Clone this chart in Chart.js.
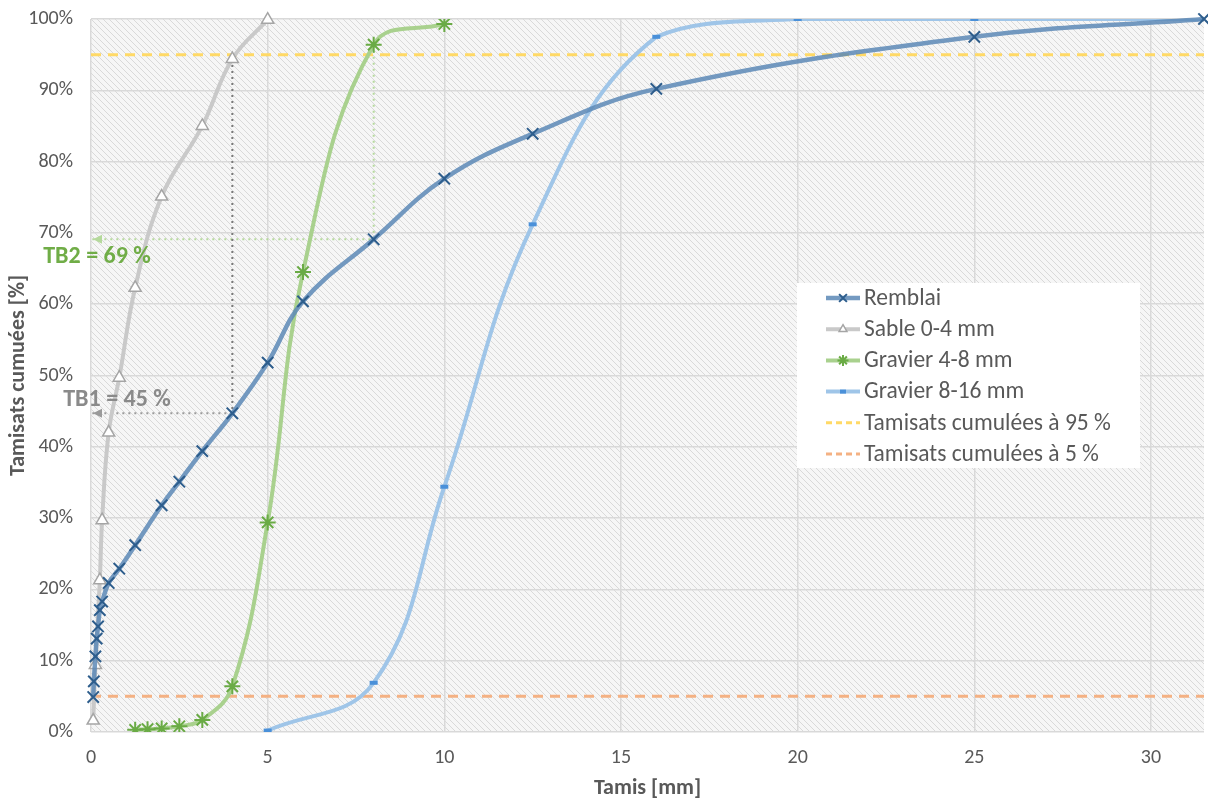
<!DOCTYPE html>
<html>
<head>
<meta charset="utf-8">
<script src="https://cdn.jsdelivr.net/npm/chart.js@4.4.1/dist/chart.umd.min.js"></script>
<style>
  html, body { margin: 0; background: #fff; }
  #wrap { width: 1208px; height: 802px; }
</style>
</head>
<body>
<div id="wrap"><canvas id="chart" width="1208" height="802"></canvas></div>
<script>
// ── Data ─────────────────────────────────────────────────────────────────────
const remblaiX = [0.063, 0.08, 0.125, 0.16, 0.2, 0.25, 0.315, 0.5, 0.8, 1.25, 2, 2.5, 3.15, 4, 5, 6, 8, 10, 12.5, 16, 25, 31.5];
const remblaiY = [4.9, 7.1, 10.6, 13.1, 14.8, 17.1, 18.3, 20.9, 22.9, 26.2, 31.8, 35.1, 39.4, 44.7, 51.8, 60.4, 69.1, 77.6, 83.9, 90.2, 97.5, 100];

const sableX = [0.063, 0.125, 0.25, 0.315, 0.5, 0.8, 1.25, 2, 3.15, 4, 5];
const sableY = [1.6, 9.4, 21.3, 29.7, 42.0, 49.7, 62.3, 75.1, 85.0, 94.4, 99.9];

const grav48X = [1.25, 1.6, 2, 2.5, 3.15, 4, 5, 6, 8, 10];
const grav48Y = [0.3, 0.4, 0.5, 0.8, 1.7, 6.4, 29.4, 64.5, 96.4, 99.3];

const grav816X = [5, 8, 10, 12.5, 16, 20, 25, 31.5];
const grav816Y = [0.2, 6.9, 34.4, 71.2, 97.5, 100, 100, 100];

const limitX  = [0, 31.5];
const limit95 = [95, 95];
const limit5  = [5, 5];

// TB1 / TB2 read-offs (sieve, passing %)
const tb1 = { sieve: 4, d95: 94.4, value: 44.7, label: "TB1 = 45 %" };
const tb2 = { sieve: 8, d95: 96.4, value: 69.1, label: "TB2 = 69 %" };

const xTicks = [0, 5, 10, 15, 20, 25, 30];

const FONT = "Carlito, Lato, 'Open Sans', sans-serif";
const TEXT = "#595959";

// ── Helpers ──────────────────────────────────────────────────────────────────
const pts = (xs, ys) => xs.map((x, i) => ({ x, y: ys[i] }));

function hatchPattern(ctx) {
  const p = document.createElement("canvas");
  p.width = 6; p.height = 6;
  const g = p.getContext("2d");
  g.fillStyle = "#f6f6f6";
  g.fillRect(0, 0, 6, 6);
  g.strokeStyle = "#d9d9d9";
  g.lineWidth = 1;
  g.beginPath();
  g.moveTo(-1, -1); g.lineTo(7, 7);
  g.moveTo(-1, 5);  g.lineTo(1, 7);
  g.moveTo(5, -1);  g.lineTo(7, 1);
  g.stroke();
  return ctx.createPattern(p, "repeat");
}

// Series styles, shared by datasets and the hand-drawn legend
const series = [
  { label: "Remblai", line: "rgba(92,136,182,0.85)", marker: "#2d5d8c", style: "crossRot", radius: 8, bw: 2, fill: "#2d5d8c", width: 4.5, dash: [] },
  { label: "Sable 0-4 mm", line: "#c9c9c9", marker: "#a5a5a5", style: "triangle", radius: 7, bw: 1.5, fill: "#ffffff", width: 4, dash: [] },
  { label: "Gravier 4-8 mm", line: "#a9d18e", marker: "#6aab45", style: "star", radius: 8, bw: 2, fill: "#6aab45", width: 4, dash: [] },
  { label: "Gravier 8-16 mm", line: "#9fc5e8", marker: "#4a90d9", style: "line", radius: 4, bw: 4, fill: "#4a90d9", width: 4, dash: [] },
  { label: "Tamisats cumulées à 95 %", line: "#ffd966", marker: null, width: 3, dash: [10, 7] },
  { label: "Tamisats cumulées à 5 %", line: "#f4b183", marker: null, width: 3, dash: [10, 7] }
];

function curve(s, data, clip) {
  return {
    label: s.label, data, showLine: true, tension: 0.4, clip,
    borderColor: s.line, borderWidth: s.width, borderDash: s.dash,
    pointStyle: s.style, pointRadius: s.radius, pointHoverRadius: s.radius,
    pointBorderColor: s.marker, pointBackgroundColor: s.fill, pointBorderWidth: s.bw
  };
}
function flat(s, data) {
  return {
    label: s.label, data, showLine: true, tension: 0,
    borderColor: s.line, borderWidth: s.width, borderDash: s.dash, pointRadius: 0
  };
}
function guide(data, color) {
  return {
    label: "", data, showLine: true, tension: 0,
    borderColor: color, borderWidth: 2, borderDash: [2, 4], pointRadius: 0
  };
}

// ── Plugins ──────────────────────────────────────────────────────────────────
const backdrop = {
  id: "backdrop",
  beforeDraw(chart) {
    const { ctx, chartArea: a } = chart;
    ctx.save();
    ctx.fillStyle = hatchPattern(ctx);
    ctx.fillRect(a.left, a.top, a.right - a.left, a.bottom - a.top);
    ctx.restore();
  }
};

const readOffs = {
  id: "readOffs",
  afterDatasetsDraw(chart) {
    const { ctx, scales: { x, y } } = chart;
    const arrow = (v, color) => {
      const px = x.getPixelForValue(0) + 2, py = y.getPixelForValue(v);
      ctx.fillStyle = color;
      ctx.beginPath();
      ctx.moveTo(px, py); ctx.lineTo(px + 9, py - 4.5); ctx.lineTo(px + 9, py + 4.5);
      ctx.closePath(); ctx.fill();
    };
    ctx.save();
    arrow(tb1.value, "#9a9a9a");
    arrow(tb2.value, "#b5d99c");
    ctx.font = "bold 24px " + FONT;
    ctx.textBaseline = "middle";
    ctx.textAlign = "center";
    ctx.fillStyle = "#8a8a8a";
    ctx.fillText(tb1.label, x.getPixelForValue(0) + 26, y.getPixelForValue(tb1.value) - 13);
    ctx.fillStyle = "#70ad47";
    ctx.fillText(tb2.label, x.getPixelForValue(0) + 6, y.getPixelForValue(tb2.value) + 18);
    ctx.restore();
  }
};

const boxLegend = {
  id: "boxLegend",
  afterDraw(chart) {
    const { ctx } = chart;
    const bx = 797, by = 283, bw = 343, bh = 185;
    ctx.save();
    ctx.fillStyle = "#ffffff";
    ctx.fillRect(bx, by, bw, bh);
    ctx.font = "23.5px " + FONT;
    ctx.textBaseline = "middle";
    ctx.textAlign = "left";
    series.forEach((s, i) => {
      const cy = by + 15 + i * 31.2;
      ctx.strokeStyle = s.line;
      ctx.lineWidth = s.width;
      ctx.setLineDash(s.dash.length ? [6, 4] : []);
      ctx.beginPath();
      ctx.moveTo(826, cy); ctx.lineTo(860, cy);
      ctx.stroke();
      ctx.setLineDash([]);
      if (s.marker) {
        ctx.strokeStyle = s.marker;
        ctx.fillStyle = s.fill;
        ctx.lineWidth = s.bw;
        Chart.helpers.drawPoint(ctx, {
          pointStyle: s.style, radius: Math.max(3, s.radius - 2.5), borderWidth: s.bw, rotation: 0
        }, 843, cy);
      }
      ctx.fillStyle = TEXT;
      ctx.fillText(s.label, 864, cy + 1);
    });
    ctx.restore();
  }
};

// ── Chart ────────────────────────────────────────────────────────────────────
const markerClip = { left: 10, top: 10, right: 10, bottom: 10 };

new Chart(document.getElementById("chart").getContext("2d"), {
  type: "scatter",
  data: {
    datasets: [
      curve(series[0], pts(remblaiX, remblaiY), markerClip),
      curve(series[1], pts(sableX, sableY), markerClip),
      curve(series[2], pts(grav48X, grav48Y)),
      curve(series[3], pts(grav816X, grav816Y)),
      flat(series[4], pts(limitX, limit95)),
      flat(series[5], pts(limitX, limit5)),
      guide([{ x: tb1.sieve, y: tb1.d95 }, { x: tb1.sieve, y: tb1.value }], "#7a7a7a"),
      guide([{ x: tb1.sieve, y: tb1.value }, { x: 0, y: tb1.value }], "#9a9a9a"),
      guide([{ x: tb2.sieve, y: tb2.d95 }, { x: tb2.sieve, y: tb2.value }, { x: 0, y: tb2.value }], "#b5d99c")
    ]
  },
  options: {
    responsive: false,
    animation: false,
    devicePixelRatio: 1,
    layout: { autoPadding: false, padding: { top: 19, right: 4, left: 0, bottom: 0 } },
    plugins: { legend: { display: false }, tooltip: { enabled: false } },
    scales: {
      x: {
        type: "linear", min: 0, max: 31.5,
        afterFit: s => { s.height = 70; s.paddingLeft = 0; s.paddingRight = 0; },
        afterBuildTicks: s => { s.ticks = xTicks.map(v => ({ value: v })); },
        grid: { color: "#d9d9d9", lineWidth: 1.5, drawTicks: false },
        border: { display: false },
        ticks: { color: TEXT, font: { family: FONT, size: 20 }, padding: 14, maxRotation: 0 },
        title: { display: true, text: "Tamis [mm]", color: TEXT, font: { family: FONT, size: 22, weight: "bold" }, padding: { top: 0, bottom: 0 } }
      },
      y: {
        min: 0, max: 100,
        afterFit: s => { s.width = 91; s.paddingTop = 0; s.paddingBottom = 0; },
        grid: { color: "#d9d9d9", lineWidth: 1.5, drawTicks: false },
        border: { display: false },
        ticks: { stepSize: 10, color: TEXT, font: { family: FONT, size: 20 }, padding: 18, callback: v => v + "%" },
        title: { display: true, text: "Tamisats cumuées [%]", color: TEXT, font: { family: FONT, size: 22, weight: "bold" }, padding: { top: 5, bottom: 0 } }
      }
    }
  },
  plugins: [backdrop, readOffs, boxLegend]
});
</script>
</body>
</html>
